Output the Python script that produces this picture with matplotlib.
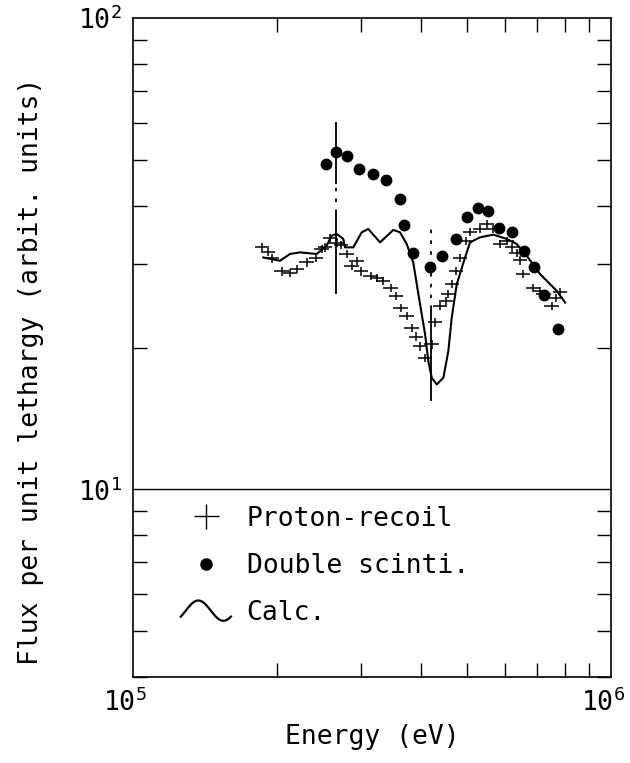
import numpy as np
import matplotlib
matplotlib.use("Agg")
import matplotlib.pyplot as plt
import matplotlib.transforms as mtransforms
from matplotlib.lines import Line2D
from matplotlib.legend_handler import HandlerBase

plt.rcParams['font.family'] = ['DejaVu Sans Mono']
plt.rcParams['mathtext.fontset'] = 'custom'
plt.rcParams['mathtext.rm'] = 'DejaVu Sans Mono'

# Proton-recoil (エネルギー eV, フラックス)
proton_E = [1.862e5, 1.916e5, 1.953e5, 2.047e5, 2.130e5, 2.203e5, 2.309e5, 2.414e5,
            2.482e5, 2.522e5, 2.584e5, 2.668e5, 2.724e5, 2.800e5, 2.868e5, 2.938e5,
            2.999e5, 3.142e5, 3.239e5, 3.338e5, 3.460e5, 3.549e5, 3.631e5, 3.737e5,
            3.829e5, 3.909e5, 3.985e5, 4.082e5, 4.216e5, 4.284e5, 4.388e5, 4.517e5,
            4.567e5, 4.649e5, 4.739e5, 4.832e5, 4.973e5, 5.070e5, 5.320e5, 5.495e5,
            5.665e5, 5.860e5, 6.050e5, 6.206e5, 6.348e5, 6.449e5, 6.552e5, 6.877e5,
            7.104e5, 7.218e5, 7.516e5, 7.672e5, 7.822e5]
proton_F = [32.7, 31.9, 30.9, 29.0, 28.8, 29.4, 30.3, 31.0,
            32.4, 32.6, 34.2, 33.4, 33.0, 31.6, 29.8, 30.5,
            29.0, 28.4, 28.1, 27.7, 26.7, 25.7, 24.3, 23.3,
            22.0, 21.1, 20.1, 19.0, 20.3, 22.6, 24.5, 25.1,
            26.0, 27.3, 29.1, 31.0, 33.7, 35.1, 35.7, 36.6,
            35.7, 33.2, 33.7, 32.6, 31.8, 30.6, 28.6, 26.8,
            26.4, 26.0, 24.5, 25.5, 26.2]

# 大きな誤差棒 (E, 実線区間, 破線区間)
bigbar_E = [2.66e5, 4.20e5]
bigbar_solid = [[(44.5, 60.2), (26.0, 38.5)], [(15.4, 24.1)]]
bigbar_dash = [[(38.5, 44.5)], [(24.1, 35.9)]]

# Double scinti.
double_E = [2.534e5, 2.656e5, 2.80e5, 2.97e5, 3.17e5, 3.38e5, 3.62e5, 3.69e5,
            3.86e5, 4.18e5, 4.42e5, 4.74e5, 4.99e5, 5.26e5, 5.52e5, 5.84e5,
            6.20e5, 6.59e5, 6.91e5, 7.24e5, 7.76e5]
double_F = [49.1, 51.9, 50.9, 47.9, 46.7, 45.4, 41.3, 36.4,
            31.7, 29.7, 31.3, 33.9, 37.8, 39.6, 39.0, 35.9,
            35.2, 32.1, 29.6, 25.9, 21.9]

# Calc.
calc_E = [1.873e5, 2.030e5, 2.130e5, 2.236e5, 2.423e5, 2.542e5, 2.604e5, 2.668e5,
          2.754e5, 2.777e5, 2.890e5, 3.009e5, 3.106e5, 3.287e5, 3.504e5, 3.619e5,
          3.737e5, 3.858e5, 3.952e5, 4.082e5, 4.147e5, 4.216e5, 4.319e5, 4.459e5,
          4.567e5, 4.642e5, 4.756e5, 4.950e5, 5.070e5, 5.320e5, 5.673e5, 6.050e5,
          6.348e5, 6.662e5, 7.104e5, 7.336e5, 7.698e5, 8.013e5]
calc_F = [31.05, 30.55, 31.58, 31.83, 31.58, 32.89, 34.54, 34.83,
          33.99, 32.62, 32.62, 35.10, 35.69, 33.42, 35.52, 35.10,
          33.16, 30.26, 26.01, 21.37, 18.72, 17.25, 16.70, 17.25,
          19.66, 23.15, 27.26, 31.05, 33.42, 34.26, 34.71, 33.99,
          33.16, 31.30, 28.62, 27.70, 26.37, 24.91]

FS = 19


class HandlerWave(HandlerBase):
    # 凡例用の波形
    def create_artists(self, legend, orig_handle, xdescent, ydescent,
                       width, height, fontsize, trans):
        t = np.linspace(0, 1, 50)
        xs = -xdescent + t * width
        ys = -ydescent + height / 2 + 0.55 * height * np.sin(np.pi * (2 * t - 0.2))
        line = Line2D(xs, ys, color='k', lw=1.6, transform=trans)
        return [line]


fig = plt.figure(figsize=(6.3, 7.63), dpi=100)
ax = fig.add_axes([0.211, 0.1127, 0.759, 0.8637])
ax.set_xscale('log')
ax.set_yscale('log')
ax.set_xlim(1e5, 1e6)
ax.set_ylim(4, 100)

# 10^1 の横線
ax.axhline(10, color='k', lw=1.0)

# Proton-recoil
pE = np.array(proton_E)
pF = np.array(proton_F)
ax.errorbar(pE, pF, xerr=pE * 0.035, yerr=pF * 0.02, fmt='none',
            ecolor='k', elinewidth=1.1, capsize=0)

for e, segs, dsegs in zip(bigbar_E, bigbar_solid, bigbar_dash):
    for lo, hi in segs:
        ax.vlines(e, lo, hi, color='k', lw=1.3)
    for lo, hi in dsegs:
        ax.vlines(e, lo, hi, color='k', lw=1.3, linestyles=(0, (2, 4)))

ax.plot(calc_E, calc_F, color='k', lw=1.5)
ax.plot(double_E, double_F, 'o', color='k', ms=7.5, mec='k')

for s in ax.spines.values():
    s.set_linewidth(1.2)

ax.tick_params(which='both', direction='in', top=True, right=True,
               labelsize=FS, width=1.0, pad=8)
ax.tick_params(which='major', length=0)
ax.tick_params(which='minor', length=10)
ax.yaxis.set_minor_formatter(matplotlib.ticker.NullFormatter())
ax.xaxis.set_minor_formatter(matplotlib.ticker.NullFormatter())

# x目盛りラベルを少し左へ
offset = mtransforms.ScaledTranslation(-8 / 100, 0, fig.dpi_scale_trans)
for lbl in ax.get_xticklabels():
    lbl.set_transform(lbl.get_transform() + offset)

ax.set_xlabel('Energy (eV)', fontsize=FS, labelpad=5)
ax.set_ylabel('Flux per unit lethargy (arbit. units)', fontsize=FS)
ax.yaxis.set_label_coords(-0.185, 0.464)

h_proton = Line2D([], [], marker='+', color='k', ls='none', ms=18, mew=1.0)
h_double = Line2D([], [], marker='o', color='k', ls='none', ms=8)
h_calc = Line2D([], [], color='k')
ax.legend([h_proton, h_double, h_calc], ['Proton-recoil', 'Double scinti.', 'Calc.'],
          handler_map={h_calc: HandlerWave()},
          loc='upper left', bbox_to_anchor=(0.1, 0.26), frameon=False,
          fontsize=FS, handlelength=1.9, handletextpad=0.6, labelspacing=0.8,
          borderpad=0, borderaxespad=0)

fig.savefig('out.png', dpi=100)
